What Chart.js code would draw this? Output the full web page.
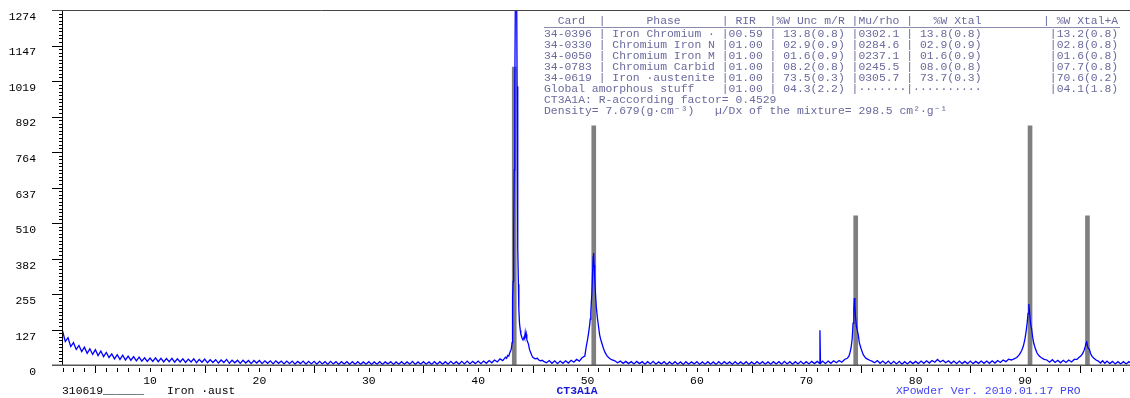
<!DOCTYPE html>
<html>
<head>
<meta charset="utf-8">
<script src="https://cdn.jsdelivr.net/npm/chart.js@4.4.0/dist/chart.umd.min.js"></script>
<style>
  html, body { margin: 0; padding: 0; background: #fff; }
  #wrap { width: 1130px; height: 398px; position: relative; }
</style>
</head>
<body>
<div id="wrap"><canvas id="xrd"></canvas></div>
<script>
// measured scan, [2theta, counts], split by region
const scanLow = [
  [2.00,122],[2.25,84],[2.50,98],[2.75,66],[3.00,80],[3.25,56],[3.50,70],[3.75,48],
  [4.00,64],[4.25,42],[4.50,58],[4.75,38],[5.00,55],[5.25,34],[5.50,50],[5.75,30],
  [6.00,45],[6.25,27],[6.50,40],[6.75,22],[7.00,37],[7.25,20],[7.50,35],[7.75,18],
  [8.00,32],[8.25,17],[8.50,30],[8.75,15],[9.00,28],[9.25,14],[9.50,26],[9.75,13],
  [10.00,25],[10.25,13],[10.5,26],[10.75,12],[11,24],[11.25,11],[11.5,23],[11.75,12],
  [12,24],[12.25,10],[12.5,22],[12.75,11],[13,22],[13.25,9],[13.5,21],[13.75,11],
  [14,22],[14.25,8],[14.5,20],[14.75,10],[15,21],[15.25,8],[15.5,19],[15.75,9],
  [16,19],[16.25,7],[16.5,18],[16.75,9],[17,20],[17.25,6],[17.5,17],[17.75,8],
  [18,17],[18.25,6],[18.5,17],[18.75,7],[19,16],[19.25,5],[19.5,16],[19.75,7],
  [20,16],[20.25,5],[20.5,15],[20.75,6],[21,15],[21.25,4],[21.5,15],[21.75,6],
  [22,14],[22.25,4],[22.5,14],[22.75,5],[23,14],[23.25,3],[23.5,13],[23.75,5],
  [24,14],[24.25,3],[24.5,13],[24.75,4],[25,13],[25.25,3],[25.5,13],[25.75,4],
  [26,12],[26.25,2],[26.5,13],[26.75,4],[27,12],[27.25,2],[27.5,12],[27.75,4],
  [28,12],[28.25,2],[28.5,12],[28.75,3],[29,12],[29.25,2],[29.5,11],[29.75,3],
  [30,12],[30.25,2],[30.5,11],[30.75,3],[31,12],[31.25,2],[31.5,11],[31.75,4],
  [32,12],[32.25,2],[32.5,11],[32.75,3],[33,12],[33.25,3],[33.5,11],[33.75,3],
  [34,13],[34.25,2],[34.5,11],[34.75,3],[35,12],[35.25,3],[35.5,11],[35.75,2],
  [36,12],[36.25,3],[36.5,12],[36.75,3],[37,12],[37.25,3],[37.5,13],[37.75,4],
  [38,12],[38.25,3],[38.5,13],[38.75,4],[39,14],[39.25,4],[39.5,13],[39.75,5],
  [40,14],[40.25,5],[40.5,14],[40.75,6],[41,16],[41.25,8],[41.5,18],[41.75,11],
  [42,22],[42.25,16],[42.5,28]
];
const peak111 = [
  [42.6,24],[42.7,34],[42.8,32],[42.9,45],[43.0,54],[43.05,62],[43.1,80],[43.15,240],
  [43.2,300],[43.25,480],[43.3,700],[43.35,1000],[43.4,1300],[43.47,1420],[43.52,1350],
  [43.56,1000],[43.6,700],[43.64,420],[43.68,290],[43.72,200],[43.78,150],[43.85,125],
  [43.9,112],[44.0,98],[44.1,90],[44.2,100],[44.25,95],[44.3,115],[44.35,98],[44.4,110],
  [44.45,92],[44.5,85],[44.6,75],[44.7,55],[44.8,45],[44.9,35],[45.0,28],[45.2,22],
  [45.4,24],[45.55,18],[45.7,15],[45.85,17],[46.0,13]
];
const scanMid1 = [
  [46.25,8],[46.5,16],[46.75,6],[47,15],[47.25,5],[47.5,14],[47.75,6],[48,15],
  [48.25,7],[48.5,17],[48.75,10],[49,20],[49.25,14],[49.5,26],[49.75,32]
];
const peak200 = [
  [49.9,70],[50.0,90],[50.1,115],[50.2,145],[50.25,165],[50.3,190],[50.4,260],
  [50.47,340],[50.52,390],[50.56,402],[50.6,360],[50.65,320],[50.72,260],[50.8,210],
  [50.9,170],[51.0,140],[51.1,110],[51.2,92],[51.3,80],[51.45,60],[51.6,45],
  [51.8,32],[52.0,24],[52.2,19]
];
const scanMid2 = [
  [52.5,15],[52.75,8],[53,14],[53.25,6],[53.5,13],[53.75,5],[54,12],[54.25,4],
  [54.5,13],[54.75,5],[55,12],[55.25,3],[55.5,12],[55.75,4],[56,13],[56.25,3],
  [56.5,11],[56.75,4],[57,12],[57.25,2],[57.5,11],[57.75,3],[58,12],[58.25,3],
  [58.5,11],[58.75,2],[59,12],[59.25,3],[59.5,11],[59.75,4],[60,12],[60.25,2],
  [60.5,11],[60.75,3],[61,12],[61.25,3],[61.5,11],[61.75,2],[62,12],[62.25,3],
  [62.5,12],[62.75,4],[63,11],[63.25,2],[63.5,12],[63.75,3],[64,11],[64.25,3],
  [64.5,12],[64.75,2],[65,11],[65.25,3],[65.5,12],[65.75,4],[66,12],[66.25,3],
  [66.5,11],[66.75,3],[67,12],[67.25,4],[67.5,12],[67.75,3],[68,13],[68.25,4],
  [68.5,12],[68.75,3],[69,12],[69.25,4],[69.5,13],[69.75,4],[70,12],[70.25,4],
  [70.5,13],[70.75,5],[71,13],[71.2,6],[71.25,125],[71.3,6],[71.5,14],[71.75,5],
  [72,14],[72.25,6],[72.5,15],[72.75,8],[73,16],[73.25,10],[73.5,20]
];
const peak220 = [
  [73.75,24],[73.9,32],[74.0,45],[74.1,62],[74.2,95],[74.28,150],[74.35,200],
  [74.4,240],[74.45,215],[74.5,175],[74.58,140],[74.66,125],[74.75,110],[74.85,80],
  [75.0,60],[75.2,38],[75.4,26],[75.6,21],[75.8,17],[76.0,14]
];
const scanMid3 = [
  [76.25,8],[76.5,16],[76.75,6],[77,14],[77.25,5],[77.5,14],[77.75,4],[78,13],
  [78.25,4],[78.5,13],[78.75,3],[79,12],[79.25,4],[79.5,13],[79.75,5],[80,13],
  [80.25,5],[80.5,14],[80.75,6],[81,15],[81.25,7],[81.5,16],[81.75,10],[82,20],
  [82.25,11],[82.5,17],[82.75,8],[83,15],[83.25,6],[83.5,14],[83.75,5],[84,14],
  [84.25,5],[84.5,13],[84.75,5],[85,14],[85.25,5],[85.5,13],[85.75,6],[86,14],
  [86.25,6],[86.5,14],[86.75,6],[87,15],[87.25,7],[87.5,16],[87.75,9],[88,18],
  [88.25,12],[88.5,21]
];
const peak311 = [
  [88.75,18],[89.0,22],[89.25,27],[89.5,38],[89.7,52],[89.85,68],[90.0,95],
  [90.1,120],[90.2,152],[90.28,185],[90.35,219],[90.42,190],[90.5,150],[90.6,130],
  [90.7,100],[90.8,78],[90.95,58],[91.1,43],[91.3,32],[91.5,26],[91.75,20],[92.0,18]
];
const scanMid4 = [
  [92.25,10],[92.5,19],[92.75,9],[93,17],[93.25,8],[93.5,17],[93.75,9],[94,18],
  [94.25,11],[94.5,20],[94.75,20]
];
const peak222 = [
  [94.9,26],[95.1,32],[95.25,40],[95.4,52],[95.5,65],[95.58,78],[95.64,86],[95.7,70],
  [95.78,60],[95.85,58],[95.92,52],[96.0,40],[96.15,30],[96.3,24],[96.5,18],[96.7,14]
];
const scanHigh = [
  [96.9,7],[97.1,15],[97.3,6],[97.5,14],[97.75,5],[98,13],[98.25,4],[98.5,12],
  [98.75,4],[99,12],[99.25,4],[99.5,12],[99.75,5]
];

// reference card sticks (austenite)
const stickPos = [43.3, 50.57, 74.52, 90.46, 95.71];
const stickInt = [1069, 858, 535, 858, 535];

const xMin = 1.95, xMax = 99.6;
const yMax = 1274;
const yTickLabels = [0, 127, 255, 382, 510, 637, 764, 892, 1019, 1147, 1274];
const xTickLabels = [10, 20, 30, 40, 50, 60, 70, 80, 90];

const tableLines = [
  '  Card  |      Phase      | RIR  |%W Unc m/R |Mu/rho |   %W Xtal         | %W Xtal+A',
  '34-0396 | Iron Chromium \u00b7 |00.59 | 13.8(0.8) |0302.1 | 13.8(0.8)          |13.2(0.8)',
  '34-0330 | Chromium Iron N |01.00 | 02.9(0.9) |0284.6 | 02.9(0.9)          |02.8(0.8)',
  '34-0050 | Chromium Iron M |01.00 | 01.6(0.9) |0237.1 | 01.6(0.9)          |01.6(0.8)',
  '34-0783 | Chromium Carbid |01.00 | 08.2(0.8) |0245.5 | 08.0(0.8)          |07.7(0.8)',
  '34-0619 | Iron \u00b7austenite |01.00 | 73.5(0.3) |0305.7 | 73.7(0.3)          |70.6(0.2)',
  'Global amorphous stuff    |01.00 | 04.3(2.2) |\u00b7\u00b7\u00b7\u00b7\u00b7\u00b7\u00b7|\u00b7\u00b7\u00b7\u00b7\u00b7\u00b7\u00b7\u00b7\u00b7\u00b7          |04.1(1.8)',
  'CT3A1A: R-according factor= 0.4529',
  'Density= 7.679(g\u00b7cm\u207b\u00b3)   \u00b5/Dx of the mixture= 298.5 cm\u00b2\u00b7g\u207b\u00b9'
];
const footSample = '310619______';
const footPhase = 'Iron \u00b7aust';
const footFile = 'CT3A1A';
const footVersion = 'XPowder Ver. 2010.01.17 PRO';

const scan = [].concat(scanLow, peak111, scanMid1, peak200, scanMid2, peak220,
  scanMid3, peak311, scanMid4, peak222, scanHigh);

const monoFamily = '"Liberation Mono", "DejaVu Sans Mono", monospace';
const monoFont = '11.4px ' + monoFamily;

const decorations = {
  id: 'decorations',
  afterDraw(chart) {
    const ctx = chart.ctx;
    const xs = chart.scales.x;
    const ys = chart.scales.y;
    const { left, right, top, bottom } = chart.chartArea;
    ctx.save();

    // y ticks: long at labels, short at tenths
    ctx.strokeStyle = '#000';
    ctx.lineWidth = 1;
    ctx.beginPath();
    for (let k = 0; k <= 100; k++) {
      const py = Math.round(ys.getPixelForValue(k * yMax / 100)) + 0.5;
      const len = k % 10 === 0 ? 10 : 3;
      ctx.moveTo(left - len, py);
      ctx.lineTo(left, py);
    }
    // x ticks every degree, longer at 5, 15, 25 ...
    for (let d = 2; d <= 99; d++) {
      const px = Math.round(xs.getPixelForValue(d)) + 0.5;
      if (d % 10 === 5) {
        ctx.moveTo(px, bottom + 1);
        ctx.lineTo(px, bottom + 8);
      } else {
        ctx.moveTo(px, bottom + 3);
        ctx.lineTo(px, bottom + 7);
      }
    }
    ctx.stroke();

    // y axis line
    ctx.beginPath();
    ctx.moveTo(left + 0.5, top);
    ctx.lineTo(left + 0.5, bottom);
    ctx.stroke();

    // frame top and base line
    ctx.strokeStyle = '#444';
    ctx.beginPath();
    ctx.moveTo(left - 10, top + 0.5);
    ctx.lineTo(right, top + 0.5);
    ctx.stroke();
    ctx.lineWidth = 1.5;
    ctx.strokeStyle = '#555';
    ctx.beginPath();
    ctx.moveTo(left - 10, bottom + 0.25);
    ctx.lineTo(right, bottom + 0.25);
    ctx.stroke();

    // quantification table
    ctx.font = monoFont;
    ctx.textBaseline = 'middle';
    ctx.textAlign = 'left';
    ctx.fillStyle = '#6a6a9e';
    tableLines.forEach((line, i) => {
      const ty = i === 0 ? 20.5 : 33.5 + (i - 1) * 11;
      ctx.fillText(line, 544, ty);
    });
    ctx.strokeStyle = '#8a8aac';
    ctx.lineWidth = 1;
    ctx.beginPath();
    ctx.moveTo(544, 27.5);
    ctx.lineTo(1120, 27.5);
    ctx.stroke();

    // footer
    ctx.fillStyle = '#000';
    ctx.fillText(footSample, 62, 391);
    ctx.fillText(footPhase, 167, 391);
    ctx.fillStyle = '#1a1ad6';
    ctx.font = 'bold ' + monoFont;
    ctx.textAlign = 'center';
    ctx.fillText(footFile, 577, 391);
    ctx.font = monoFont;
    ctx.textAlign = 'left';
    ctx.fillStyle = '#4646f0';
    ctx.fillText(footVersion, 896, 391);
    ctx.restore();
  }
};

new Chart(document.getElementById('xrd'), {
  type: 'line',
  data: {
    datasets: [
      {
        type: 'bar',
        label: 'Card 34-0619',
        data: stickPos.map((p, i) => ({ x: p, y: stickInt[i] })),
        backgroundColor: '#7f7f7f',
        barThickness: 4,
        order: 2
      },
      {
        type: 'line',
        label: 'CT3A1A',
        data: scan.map(p => ({ x: p[0], y: p[1] })),
        borderColor: '#0000ff',
        borderWidth: 1.3,
        pointRadius: 0,
        tension: 0,
        order: 1
      }
    ]
  },
  options: {
    responsive: true,
    maintainAspectRatio: false,
    animation: false,
    devicePixelRatio: 1,
    layout: { padding: { top: 10, right: 0, left: 0, bottom: 0 } },
    plugins: {
      legend: { display: false },
      tooltip: { enabled: false }
    },
    scales: {
      x: {
        type: 'linear',
        min: xMin,
        max: xMax,
        offset: false,
        grid: { display: false, drawTicks: false },
        border: { display: false },
        afterBuildTicks: (scale) => {
          scale.ticks = xTickLabels.map(v => ({ value: v }));
        },
        afterFit: (scale) => {
          scale.height = 33;
          scale.paddingLeft = 0;
          scale.paddingRight = 0;
        },
        ticks: {
          autoSkip: false,
          maxRotation: 0,
          padding: 9,
          color: '#000',
          font: { family: monoFamily, size: 11.4 },
          callback: (v) => String(v)
        }
      },
      y: {
        type: 'linear',
        min: 0,
        max: yMax,
        grid: { display: false, drawTicks: false },
        border: { display: false },
        afterBuildTicks: (scale) => {
          scale.ticks = yTickLabels.map(v => ({ value: v }));
        },
        afterFit: (scale) => {
          scale.width = 62;
          scale.paddingTop = 0;
          scale.paddingBottom = 0;
        },
        ticks: {
          padding: 26,
          labelOffset: 7,
          color: '#000',
          font: { family: monoFamily, size: 11.4 },
          callback: (v) => String(v)
        }
      }
    }
  },
  plugins: [decorations]
});
</script>
</body>
</html>
